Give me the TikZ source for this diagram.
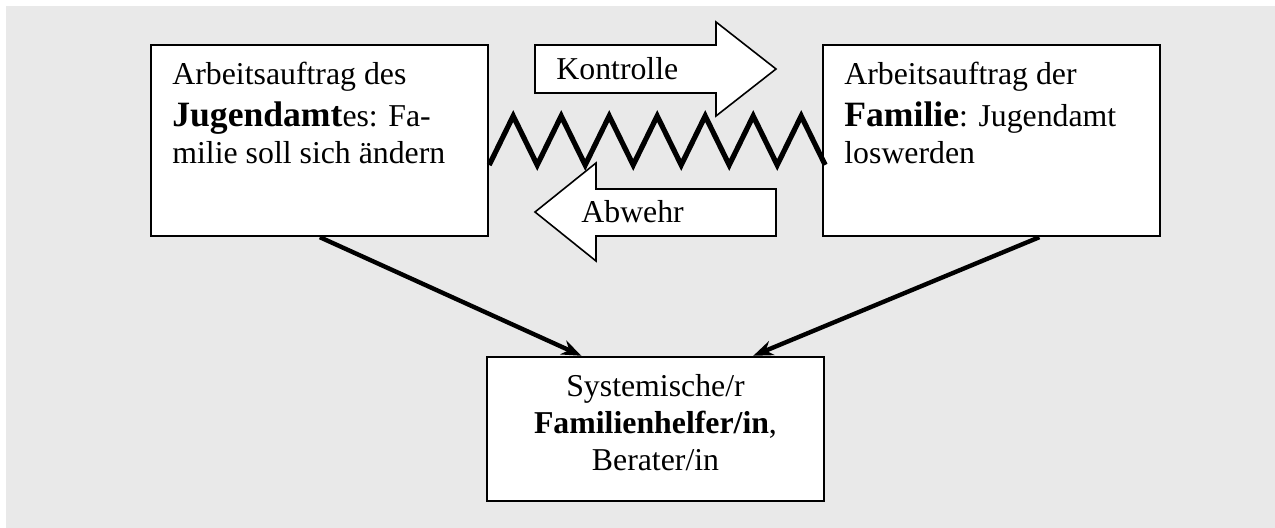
\documentclass[tikz,border=0pt]{standalone}
\usepackage{fontspec}
\setmainfont{Liberation Serif}
\usetikzlibrary{arrows.meta,calc}
\definecolor{bggray}{RGB}{233,233,233}
\tikzset{
  box/.style={draw=black, line width=1.2pt, fill=white, minimum width=168.5pt, inner sep=0pt},
  txt/.style={inner sep=0pt, font=\fontsize{15.9pt}{18pt}\selectfont},
  bigarrow/.style={draw=black, line width=0.8pt, fill=white, line join=miter},
  conn/.style={line width=2.2pt, -{Stealth[length=10pt,width=7.5pt]}},
  zig/.style={line width=2.6pt, line join=miter, miter limit=10}
}
\newcommand{\bigbf}[1]{{\fontsize{17.8pt}{20pt}\selectfont\bfseries #1}}
\begin{document}
\begin{tikzpicture}[x=0.5pt, y=-0.5pt]
\useasboundingbox (0,0) rectangle (1275,528);
\fill[bggray] (6,6) rectangle (1275,528);

% boxes
\node[box, minimum height=95.5pt] (ja) at (319.5,140.5) {};
\node[box, minimum height=95.5pt] (fam) at (991.5,140.5) {};
\node[box, minimum height=72pt] (fh) at (655.5,429) {};

% texts
\node[txt, anchor=base west] (ja1) at (172,85) {Arbeitsauftrag des};
\node[txt, anchor=base west] (ja2) at (172,127) {\bigbf{Jugendamt}es: Fa-};
\node[txt, anchor=base west] (ja3) at (172,164) {milie soll sich ändern};

\node[txt, anchor=base west] (fa1) at (844,85) {Arbeitsauftrag der};
\node[txt, anchor=base west] (fa2) at (844,127) {\bigbf{Familie}: Jugendamt};
\node[txt, anchor=base west] (fa3) at (844,164) {loswerden};

\node[txt, anchor=base] (fh1) at (655.5,397) {Systemische/r};
\node[txt, anchor=base] (fh2) at (655.5,434) {\textbf{Familienhelfer/in},};
\node[txt, anchor=base] (fh3) at (655.5,471) {Berater/in};

% block arrows
\draw[bigarrow] (535,45) -- (716,45) -- (716,22) -- (776,69) -- (716,116) -- (716,93) -- (535,93) -- cycle;
\node[txt, anchor=base west] (ko) at (556,80) {Kontrolle};
\draw[bigarrow] (535,212) -- (596,163) -- (596,189) -- (776,189) -- (776,236) -- (596,236) -- (596,261) -- cycle;
\node[txt, anchor=base west] (ab) at (581,223) {Abwehr};

% zigzag between the two boxes
\draw[zig] ($(ja.east)+(0,24.5)$) \foreach \i in {1,...,7} { -- ++(24,-49) -- ++(24,49) };

% connectors
\coordinate (s1) at ($(ja.south west)!0.501!(ja.south east)$);
\coordinate (t1) at ($(fh.north west)!0.282!(fh.north east)$);
\coordinate (s2) at ($(fam.south west)!0.641!(fam.south east)$);
\coordinate (t2) at ($(fh.north west)!0.788!(fh.north east)$);
\draw[conn] (s1) -- (t1);
\draw[conn] (s2) -- (t2);
\end{tikzpicture}
\end{document}
